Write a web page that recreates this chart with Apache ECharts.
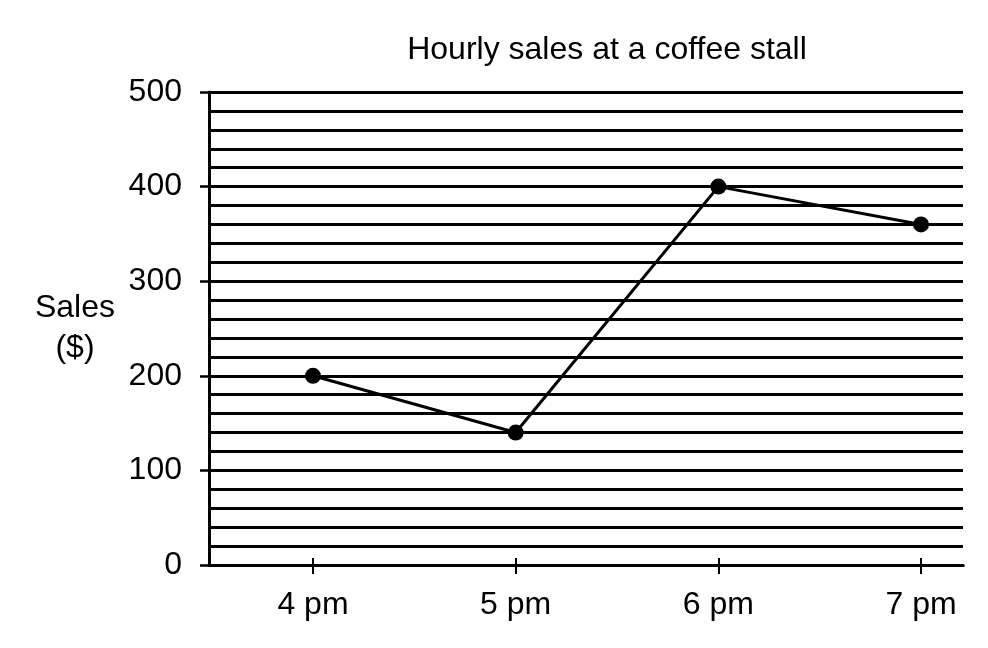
<!DOCTYPE html>
<html>
<head>
<meta charset="utf-8">
<script src="https://cdn.jsdelivr.net/npm/echarts@6/dist/echarts.min.js"></script>
<style>
html,body{margin:0;padding:0;background:#fff;}
#chart{width:988px;height:648px;}
</style>
</head>
<body>
<div id="chart"></div>
<script>
const categories = ['4 pm', '5 pm', '6 pm', '7 pm'];
const sales = [200, 140, 400, 360];
const yTickLabels = [0, 100, 200, 300, 400, 500];
const hourPositions = [4, 5, 6, 7];

const FONT = "'Liberation Sans', Arial, sans-serif";
const chart = echarts.init(document.getElementById('chart'));
const points = categories.map((c, i) => [hourPositions[i], sales[i]]);

chart.setOption({
  animation: false,
  backgroundColor: '#fff',
  title: {
    text: 'Hourly sales at a coffee stall',
    left: 602,
    top: 29,
    textAlign: 'center',
    textStyle: { fontFamily: FONT, fontSize: 32, fontWeight: 'normal', color: '#000' }
  },
  grid: { left: 209, right: 25, top: 92, bottom: 83 },
  xAxis: [{
    type: 'value',
    min: 3.487,
    max: 7.207,
    axisLine: { show: true, onZero: false, lineStyle: { color: '#000', width: 3 } },
    axisTick: { show: true, length: 9, customValues: hourPositions, lineStyle: { color: '#000', width: 2 } },
    axisLabel: {
      show: true,
      customValues: hourPositions,
      margin: 24,
      fontFamily: FONT, fontSize: 32, color: '#000',
      formatter: v => categories[hourPositions.indexOf(Math.round(v))] || ''
    },
    splitLine: { show: false }
  }, {
    type: 'value',
    min: 3.487,
    max: 7.207,
    position: 'bottom',
    axisLine: { show: true, onZero: false, lineStyle: { color: '#000', width: 3 } },
    axisTick: { show: true, inside: true, length: 7, customValues: hourPositions, lineStyle: { color: '#000', width: 2 } },
    axisLabel: { show: true, customValues: hourPositions, color: 'rgba(0,0,0,0)', formatter: () => '' },
    splitLine: { show: false }
  }],
  yAxis: {
    type: 'value',
    min: 0,
    max: 500,
    interval: 100,
    name: 'Sales\n($)',
    nameLocation: 'middle',
    nameRotate: 0,
    nameGap: 134,
    nameTextStyle: { fontFamily: FONT, fontSize: 32, color: '#000', align: 'center', lineHeight: 40 },
    axisLine: { show: true, lineStyle: { color: '#000', width: 3 } },
    axisTick: { show: true, length: 9, customValues: yTickLabels, lineStyle: { color: '#000', width: 2.5 } },
    axisLabel: {
      customValues: yTickLabels,
      margin: 27,
      fontFamily: FONT, fontSize: 32, color: '#000'
    },
    splitLine: { show: true, lineStyle: { color: '#000', width: 3 } },
    minorTick: { show: false, splitNumber: 5 },
    minorSplitLine: { show: true, lineStyle: { color: '#000', width: 3 } }
  },
  series: [{
    type: 'line',
    data: points,
    symbol: 'circle',
    symbolSize: 16,
    itemStyle: { color: '#000' },
    lineStyle: { color: '#000', width: 3 },
    z: 5
  }]
});
</script>
</body>
</html>
